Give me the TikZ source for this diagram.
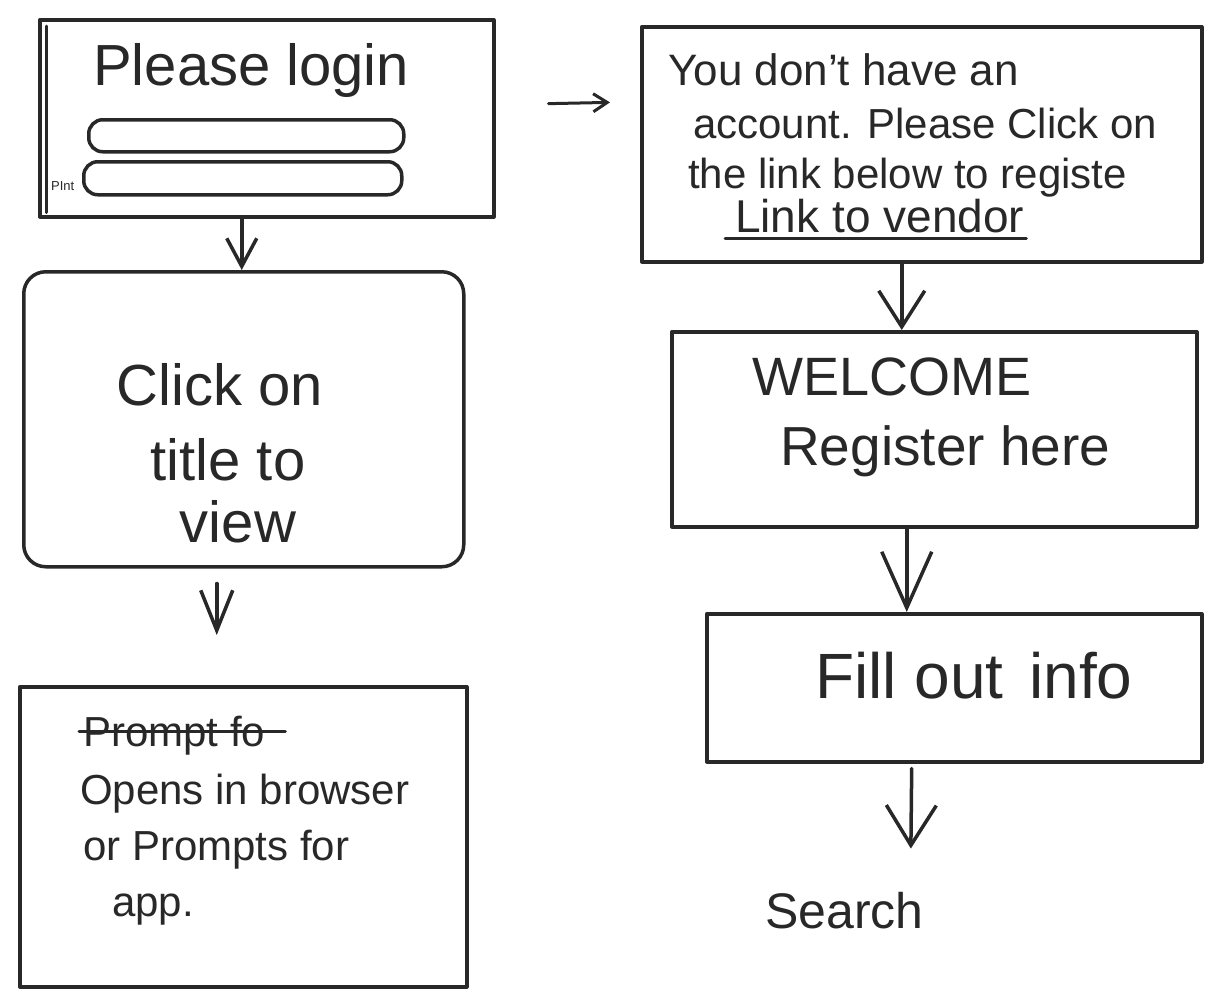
\documentclass[tikz,border=0pt]{standalone}
\usepackage{fontspec}
\setmainfont{Liberation Sans}
\usetikzlibrary{arrows.meta}
\definecolor{ink}{RGB}{40,40,40}
\begin{document}
\begin{tikzpicture}[x=1pt,y=-1pt,
  box/.style={draw=ink, line width=3.5pt, anchor=north west, inner sep=0pt, line join=round},
  field/.style={draw=ink, line width=3.5pt, rounded corners=14pt, anchor=north west, inner sep=0pt},
  txt/.style={text=ink, anchor=base west, inner sep=0pt},
  arr/.style={draw=ink, line width=3.5pt, line cap=round, line join=round, -{Straight Barb[length=32pt,width=42pt]}},
  strokeline/.style={draw=ink, line width=3pt, line cap=round},
]
\fill[white] (0,0) rectangle (1228,994);
\useasboundingbox (0,0) rectangle (1228,994);

% login screen
\node[box, minimum width=454pt, minimum height=197pt] (login) at (38,18) {};
\draw[strokeline] ([shift={(8pt,-8pt)}]login.north west) -- ([shift={(8pt,6pt)}]login.south west);
\node[field, minimum width=315pt, minimum height=32pt] (user) at (87,118) {};
\node[field, minimum width=318pt, minimum height=33pt] (pass) at (82,160) {};
\node[txt, font=\fontsize{58}{60}\selectfont] (plogin) at (93,85) {Please login};
\node[txt, font=\fontsize{13}{14}\selectfont] (pint) at (51,190) {PInt};

% click on title
\node[box, rounded corners=22pt, minimum width=440pt, minimum height=295pt] (click) at (22,270) {};
\node[txt, anchor=base, font=\fontsize{58}{60}\selectfont] (c1) at (220,405) {Click on};
\node[txt, anchor=base, font=\fontsize{58}{60}\selectfont] (c2) at (228,480) {title to};
\node[txt, anchor=base, font=\fontsize{58}{60}\selectfont] (c3) at (238,542) {view};

% opens in browser
\node[box, minimum width=447pt, minimum height=300pt] (prompt) at (18,685) {};
\node[txt, font=\fontsize{42}{44}\selectfont] (p0) at (83,746) {Prompt fo};
\draw[strokeline] ([shift={(-4pt,15pt)}]p0.base west) -- ([shift={(20pt,15pt)}]p0.base east);
\node[txt, font=\fontsize{42}{44}\selectfont] (p1) at (80,804) {Opens in browser};
\node[txt, font=\fontsize{42}{44}\selectfont] (p2) at (83,860) {or Prompts for};
\node[txt, font=\fontsize{42}{44}\selectfont] (p3) at (112,916) {app.};

% no account message
\node[box, minimum width=560pt, minimum height=235pt] (msg) at (640,25) {};
\node[txt, font=\fontsize{44}{46}\selectfont] (m1) at (668,85) {You don't have an};
\node[txt, font=\fontsize{42}{44}\selectfont] (m2) at (693,138) {account. Please Click on};
\node[txt, font=\fontsize{42}{44}\selectfont] (m3) at (688,188) {the link below to registe};
\node[txt, font=\fontsize{46}{48}\selectfont] (m4) at (735,232) {Link to vendor};
\draw[strokeline] ([shift={(-10pt,-6pt)}]m4.base west) -- ([shift={(2pt,-6pt)}]m4.base east);

% welcome
\node[box, minimum width=525pt, minimum height=195pt] (welcome) at (670,330) {};
\node[txt, font=\fontsize{54}{56}\selectfont] (w1) at (752,395) {WELCOME};
\node[txt, font=\fontsize{55}{57}\selectfont] (w2) at (780,465) {Register here};

% fill out info
\node[box, minimum width=495pt, minimum height=148pt] (fill) at (705,612) {};
\node[txt, font=\fontsize{64}{66}\selectfont] (f1) at (815,698) {Fill out\hspace{0.4em}info};

% search
\node[txt, font=\fontsize{50}{52}\selectfont] (search) at (765,928) {Search};

% connectors
\draw[arr, -{Straight Barb[length=28pt,width=30pt]}] ([xshift=-25pt]login.south) -- ([xshift=-2pt]click.north);
\draw[arr, -{Straight Barb[length=40pt,width=32pt]}, shorten <=15pt, shorten >=50pt] ([xshift=-27pt]click.south) -- ([xshift=-26.5pt]prompt.north);
\draw[arr, -{Straight Barb[length=14pt,width=18pt]}, line width=3pt, shorten <=53pt, shorten >=30pt] ([yshift=13.5pt]login.east) -- ([yshift=42.5pt]msg.west);
\draw[arr, -{Straight Barb[length=36pt,width=46pt]}] ([xshift=-20pt]msg.south) -- ([xshift=-32.5pt]welcome.north);
\draw[arr, -{Straight Barb[length=56pt,width=50pt]}] ([xshift=-27.5pt]welcome.south) -- ([xshift=-47.5pt]fill.north);
\draw[arr, -{Straight Barb[length=40pt,width=50pt]}, shorten <=5pt, shorten >=43pt] ([xshift=-42.5pt]fill.south) -- ([xshift=66pt]search.north);
\end{tikzpicture}
\end{document}
